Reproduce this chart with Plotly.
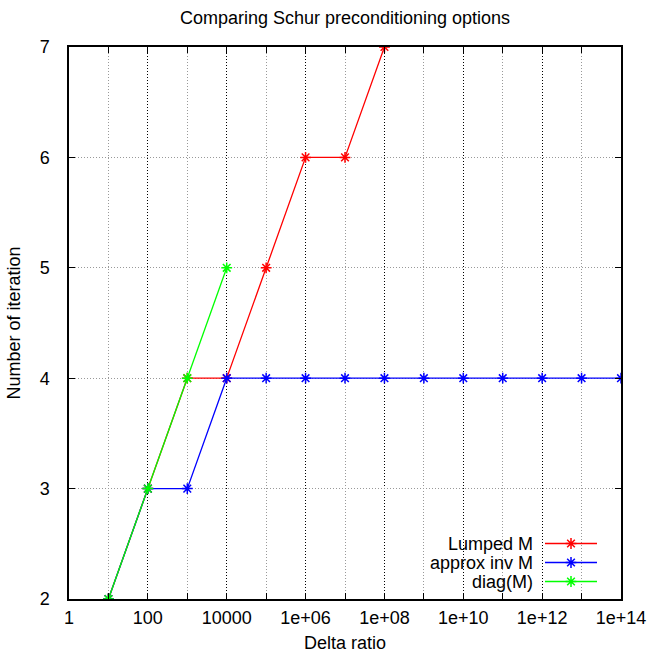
import plotly.graph_objects as go

# ---- data ----
delta_ratio = [1e1, 1e2, 1e3, 1e4, 1e5, 1e6, 1e7, 1e8, 1e9, 1e10, 1e11, 1e12, 1e13, 1e14]
lumped_m = [2, 3, 4, 4, 5, 6, 6, 7]
approx_inv_m = [2, 3, 3, 4, 4, 4, 4, 4, 4, 4, 4, 4, 4, 4]
diag_m = [2, 3, 4, 5]

series_names = ["Lumped M", "approx inv M", "diag(M)"]
series_values = [lumped_m, approx_inv_m, diag_m]
series_colors = ["#ff0000", "#0000ff", "#00ff00"]

x_tick_vals = [1, 1e2, 1e4, 1e6, 1e8, 1e10, 1e12, 1e14]
x_tick_text = ["1", "100", "10000", "1e+06", "1e+08", "1e+10", "1e+12", "1e+14"]
x_minor_vals = [1e1, 1e3, 1e5, 1e7, 1e9, 1e11, 1e13]
y_tick_vals = [2, 3, 4, 5, 6, 7]

FONT = "Liberation Sans, Arial, sans-serif"
FS = 18

fig = go.Figure()
for name, vals, col in zip(series_names, series_values, series_colors):
    fig.add_trace(go.Scatter(
        x=delta_ratio[:len(vals)], y=vals, name=name, mode="lines+markers",
        line=dict(color=col, width=1.3),
        marker=dict(symbol="asterisk-open", size=9, color=col,
                    line=dict(color=col, width=1.5)),
    ))

L, R, T, B = 69, 30, 47, 54
W, H = 651, 653
pw = W - L - R
ph = H - T - B

# legend labels drawn as right-aligned annotations (gnuplot style)
row_px = [544, 563, 582]
for name, ypx in zip(series_names, row_px):
    fig.add_annotation(
        x=(535 - L) / pw, y=(H - B - ypx) / ph, xref="paper", yref="paper",
        text=name, showarrow=False, xanchor="right", yanchor="middle",
        font=dict(family=FONT, size=FS, color="black"),
    )

DOT = "1px,2px"
axis_common = dict(
    showline=True, linecolor="black", linewidth=1.5, mirror="allticks",
    ticks="inside", ticklen=6, tickcolor="black", tickwidth=1,
    showgrid=True, gridwidth=1, griddash=DOT,
    zeroline=False, tickfont=dict(family=FONT, size=FS, color="black"),
)

fig.update_xaxes(
    type="log", range=[0, 14], tickvals=x_tick_vals, ticktext=x_tick_text,
    gridcolor="#000000", ticklabelstandoff=2,
    minor=dict(tickvals=x_minor_vals, ticks="inside", ticklen=6,
               tickcolor="black", showgrid=True, gridcolor="#999999",
               griddash=DOT, gridwidth=1),
    title=dict(text="Delta ratio", font=dict(family=FONT, size=FS, color="black"), standoff=10),
    **axis_common,
)
fig.update_yaxes(
    range=[2, 7], tickvals=y_tick_vals, gridcolor="#999999", ticklabelstandoff=14,
    title=dict(text="Number of iteration", font=dict(family=FONT, size=FS, color="black"), standoff=14),
    **axis_common,
)

fig.update_layout(
    width=W, height=H,
    margin=dict(l=L, r=R, t=T, b=B, autoexpand=False),
    paper_bgcolor="white", plot_bgcolor="white",
    title=dict(text="Comparing Schur preconditioning options", x=(L + pw / 2) / W,
               xanchor="center", y=1 - 18 / H, yanchor="middle",
               font=dict(family=FONT, size=FS, color="black")),
    showlegend=True,
    legend=dict(x=(540 - L) / pw, y=(H - B - 529) / ph, xanchor="left", yanchor="top",
                bgcolor="rgba(0,0,0,0)", borderwidth=0,
                font=dict(family=FONT, size=1, color="rgba(0,0,0,0)"),
                itemwidth=52, tracegroupgap=0),
)

fig.write_html("out.html")
